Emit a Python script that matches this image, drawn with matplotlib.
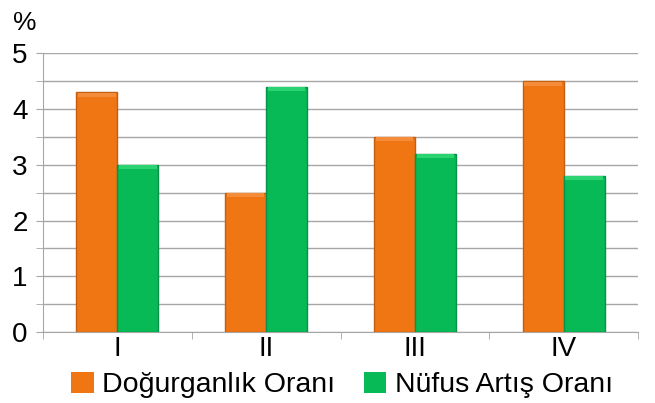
import numpy as np
import matplotlib.pyplot as plt
from matplotlib.patches import Patch
from matplotlib.ticker import MultipleLocator

plt.rcParams['font.family'] = ['Liberation Sans', 'DejaVu Sans']

# veriler
kategoriler = ['I', 'II', 'III', 'IV']
dogurganlik = [4.3, 2.5, 3.5, 4.5]
nufus_artis = [3.0, 4.4, 3.2, 2.8]
seri_adlari = ['Doğurganlık Oranı', 'Nüfus Artış Oranı']

turuncu = '#F07613'
yesil = '#08BA55'

fig = plt.figure(figsize=(6.55, 4.03), dpi=100)
ax = fig.add_axes([0.0656, 0.176, 0.9085, 0.692])

x = np.arange(len(kategoriler))
w = 0.275

ax.bar(x - w / 2, dogurganlik, w, color=turuncu, edgecolor='#C35F10',
       linewidth=1.0, zorder=3)
ax.bar(x + w / 2, nufus_artis, w, color=yesil, edgecolor='#07914A',
       linewidth=1.0, zorder=3)

# üst kenarda açık renkli ince şerit (kabartma etkisi)
ax.bar(x - w / 2, [0.07] * 4, w * 0.92, bottom=np.array(dogurganlik) - 0.08,
       color='#F48C3A', linewidth=0, zorder=4)
ax.bar(x + w / 2, [0.07] * 4, w * 0.92, bottom=np.array(nufus_artis) - 0.08,
       color='#2BD371', linewidth=0, zorder=4)

ax.set_xlim(-0.5, len(kategoriler) - 0.5)
ax.set_ylim(0, 5)

ax.yaxis.set_major_locator(MultipleLocator(1))
ax.yaxis.set_minor_locator(MultipleLocator(0.5))
ax.grid(True, axis='y', which='both', color='#A6A6A6', linewidth=1, zorder=0)

ax.set_xticks(x)
ax.set_xticklabels(kategoriler, fontsize=20)
ax.set_xticks(np.arange(len(kategoriler) + 1) - 0.5, minor=True)
ax.tick_params(axis='x', which='major', length=0, pad=3)
ax.tick_params(axis='x', which='minor', length=5, color='#A6A6A6')
ax.tick_params(axis='y', which='both', length=5, color='#A6A6A6',
               labelsize=20, pad=6)

for s in ['top', 'right']:
    ax.spines[s].set_visible(False)
for s in ['left', 'bottom']:
    ax.spines[s].set_color('#A6A6A6')

fig.text(0.02, 0.925, '%', fontsize=19)

h = [Patch(facecolor=turuncu, edgecolor='none'),
     Patch(facecolor=yesil, edgecolor='none')]
fig.legend(h, seri_adlari, loc='center', bbox_to_anchor=(0.522, 0.045), ncol=2,
           frameon=False, fontsize=20.5, handlelength=0.8, handleheight=0.75,
           handletextpad=0.3, columnspacing=1.0, borderpad=0)

fig.savefig('out.png', dpi=100)
